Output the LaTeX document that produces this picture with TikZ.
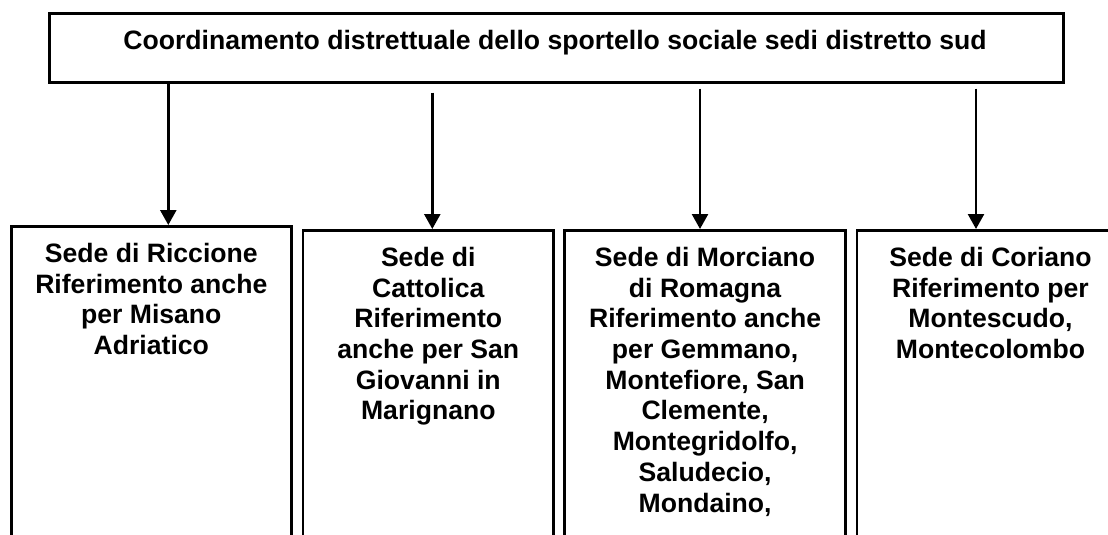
\documentclass[tikz,border=0pt]{standalone}
\usepackage{fontspec}
\setmainfont{Liberation Sans}
\usetikzlibrary{arrows.meta}
\tikzset{
  boxstyle/.style={draw=black, line width=2.6pt, rectangle, inner sep=0pt, anchor=north west},
  lbl/.style={align=center, inner sep=0pt, font=\fontsize{26.6}{30.7}\selectfont\bfseries},
  arr/.style={line width=2.5pt, -{Triangle[width=16pt,length=15pt]}}
}
\begin{document}
\begin{tikzpicture}[x=1pt,y=-1pt]
\clip (0,0) rectangle (1108,535);
\fill[white] (0,0) rectangle (1108,535);
% top box
\node[boxstyle, minimum width=1014pt, minimum height=69pt] (top) at (48,12) {};
\node[lbl, anchor=base] (ttop) at (555,49.5) {Coordinamento distrettuale dello sportello sociale sedi distretto sud};
% bottom boxes
\node[boxstyle, minimum width=280pt, minimum height=340pt] (b1) at (10,225) {};
\node[boxstyle, minimum width=250.6pt, minimum height=340pt] (b2) at (301.7,229) {};
\node[boxstyle, minimum width=281pt, minimum height=340pt] (b3) at (563.3,229) {};
\node[boxstyle, minimum width=267pt, minimum height=340pt] (b4) at (855.7,229) {};
% texts
\node[lbl, anchor=north] (t1) at ([yshift=-18pt]b1.north) {Sede di Riccione\\Riferimento anche\\per Misano\\Adriatico};
\node[lbl, anchor=north] (t2) at ([yshift=-18pt]b2.north) {Sede di\\Cattolica\\Riferimento\\anche per San\\Giovanni in\\Marignano};
\node[lbl, anchor=north] (t3) at ([yshift=-18pt]b3.north) {Sede di Morciano\\di Romagna\\Riferimento anche\\per Gemmano,\\Montefiore, San\\Clemente,\\Montegridolfo,\\Saludecio,\\Mondaino,};
\node[lbl, anchor=north] (t4) at ([yshift=-18pt]b4.north) {Sede di Coriano\\Riferimento per\\Montescudo,\\Montecolombo};
% arrow x positions
\coordinate (x1) at (168.3,0);
\coordinate (x2) at (432.3,0);
\coordinate (x3) at (700,0);
\coordinate (x4) at (976,0);
\draw[arr] (top.south -| x1) -- (b1.north -| x1);
\draw[arr, shorten <=9pt] (top.south -| x2) -- (b2.north -| x2);
\draw[arr, shorten <=5pt] (top.south -| x3) -- (b3.north -| x3);
\draw[arr, shorten <=5pt] (top.south -| x4) -- (b4.north -| x4);
\end{tikzpicture}
\end{document}
